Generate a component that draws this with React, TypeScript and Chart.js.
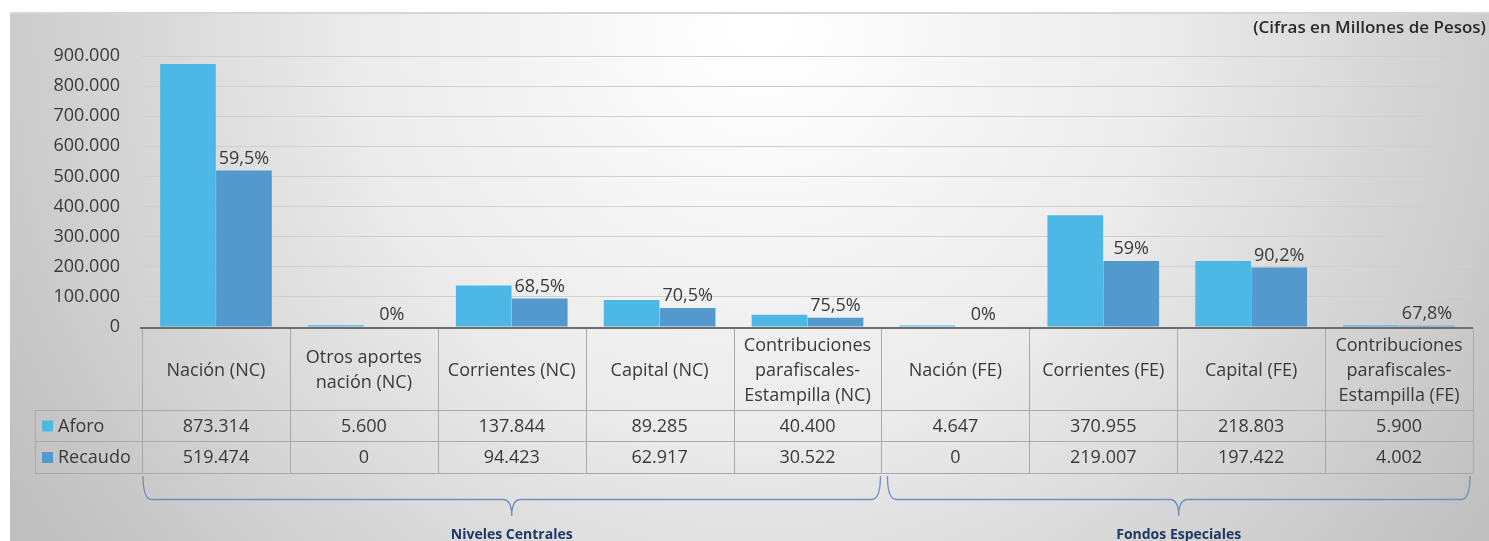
import React, { useEffect, useRef } from "react";
import { Chart, registerables } from "chart.js";

Chart.register(...registerables);

const categories: string[] = [
  "Nación (NC)",
  "Otros aportes\nnación (NC)",
  "Corrientes (NC)",
  "Capital (NC)",
  "Contribuciones\nparafiscales-\nEstampilla (NC)",
  "Nación (FE)",
  "Corrientes (FE)",
  "Capital (FE)",
  "Contribuciones\nparafiscales-\nEstampilla (FE)",
];
const aforo: number[] = [873314, 5600, 137844, 89285, 40400, 4647, 370955, 218803, 5900];
const recaudo: number[] = [519474, 0, 94423, 62917, 30522, 0, 219007, 197422, 4002];
const pctLabels: string[] = ["59,5%", "0%", "68,5%", "70,5%", "75,5%", "0%", "59%", "90,2%", "67,8%"];
const seriesNames: string[] = ["Aforo", "Recaudo"];
const groupLabels: string[] = ["Niveles Centrales", "Fondos Especiales"];
const groupStart: number[] = [0, 5];
const groupEnd: number[] = [4, 8];
const yMax = 900000;
const yStep = 100000;
const noteText = "(Cifras en Millones de Pesos)";

const COLORS = ["#4DB8E5", "#5399CD"];
const FONT = "'Open Sans', sans-serif";
const TEXT = "#3a3a3a";

const fmt = (n: number) => String(Math.round(n)).replace(/\B(?=(\d{3})+(?!\d))/g, ".");

const decorPlugin = {
  id: "decor",
  beforeDraw(chart: any) {
    const { ctx, width, height } = chart;
    ctx.save();
    ctx.fillStyle = "#ffffff";
    ctx.fillRect(0, 0, width, height);
    const g = ctx.createRadialGradient(760, 30, 20, 760, 30, 880);
    g.addColorStop(0, "#ffffff");
    g.addColorStop(0.45, "#ebebeb");
    g.addColorStop(1, "#bfbfbf");
    ctx.fillStyle = g;
    ctx.fillRect(10, 13, width - 10, height - 13);
    ctx.strokeStyle = "#d6d6d6";
    ctx.lineWidth = 2;
    ctx.beginPath();
    ctx.moveTo(10, 13);
    ctx.lineTo(width, 13);
    ctx.stroke();
    ctx.restore();
  },
  afterDatasetsDraw(chart: any) {
    const { ctx, chartArea } = chart;
    const meta = chart.getDatasetMeta(1);
    ctx.save();
    ctx.font = `18px ${FONT}`;
    ctx.fillStyle = TEXT;
    ctx.textAlign = "center";
    ctx.textBaseline = "bottom";
    meta.data.forEach((el: any, i: number) => {
      ctx.fillText(pctLabels[i], el.x, el.y - 3);
    });
    const y0 = chart.scales.y.getPixelForValue(0);
    ctx.strokeStyle = "#6e6e6e";
    ctx.lineWidth = 2;
    ctx.beginPath();
    ctx.moveTo(chartArea.left - 2, y0 + 1);
    ctx.lineTo(chartArea.right, y0 + 1);
    ctx.stroke();
    ctx.restore();
  },
  afterDraw(chart: any) {
    const { ctx, chartArea, width } = chart;
    const xs = chart.scales.x;
    const n = categories.length;
    const cw = (chartArea.right - chartArea.left) / n;
    const bound = (i: number) => chartArea.left + cw * i;
    const top = chartArea.bottom + 2;
    const r1 = 410;
    const r2 = 441;
    const r3 = 473;
    const legL = 35;
    ctx.save();
    ctx.strokeStyle = "#a9a9a9";
    ctx.lineWidth = 1;
    ctx.beginPath();
    for (let i = 0; i <= n; i++) {
      const x = Math.round(bound(i)) + 0.5;
      ctx.moveTo(x, top);
      ctx.lineTo(x, r3);
    }
    ctx.moveTo(legL + 0.5, r1);
    ctx.lineTo(legL + 0.5, r3);
    [r1, r2, r3].forEach((y) => {
      ctx.moveTo(legL, y + 0.5);
      ctx.lineTo(chartArea.right, y + 0.5);
    });
    ctx.stroke();

    ctx.fillStyle = TEXT;
    ctx.font = `18px ${FONT}`;
    ctx.textAlign = "center";
    ctx.textBaseline = "middle";
    const lh = 25;
    const hc = (top + r1) / 2 + 1;
    categories.forEach((c, i) => {
      const lines = c.split("\n");
      const cx = xs.getPixelForValue(i);
      lines.forEach((ln, k) => {
        ctx.fillText(ln, cx, hc + (k - (lines.length - 1) / 2) * lh);
      });
      ctx.fillText(fmt(aforo[i]), cx, (r1 + r2) / 2 + 1);
      ctx.fillText(fmt(recaudo[i]), cx, (r2 + r3) / 2 + 1);
    });
    ctx.textAlign = "left";
    [(r1 + r2) / 2, (r2 + r3) / 2].forEach((cy, k) => {
      ctx.fillStyle = COLORS[k];
      ctx.fillRect(42, cy - 5, 11, 11);
      ctx.fillStyle = TEXT;
      ctx.fillText(seriesNames[k], 58, cy + 1);
    });

    const bTop = 476;
    const bMid = 499.5;
    const bTip = 516;
    const rr = 9;
    groupLabels.forEach((lab, gi) => {
      const x0 = bound(groupStart[gi]) + (gi === 0 ? 1 : 6);
      const x1 = bound(groupEnd[gi] + 1) - (gi === 0 ? 1 : 3);
      const xc = (x0 + x1) / 2;
      ctx.strokeStyle = "#6d90c2";
      ctx.lineWidth = 1.3;
      ctx.beginPath();
      ctx.moveTo(x0, bTop);
      ctx.quadraticCurveTo(x0, bMid, x0 + rr, bMid);
      ctx.lineTo(xc - rr, bMid);
      ctx.quadraticCurveTo(xc, bMid, xc, bTip);
      ctx.quadraticCurveTo(xc, bMid, xc + rr, bMid);
      ctx.lineTo(x1 - rr, bMid);
      ctx.quadraticCurveTo(x1, bMid, x1, bTop);
      ctx.stroke();
      ctx.fillStyle = "#1f3864";
      ctx.font = `bold 14px ${FONT}`;
      ctx.textAlign = "center";
      ctx.fillText(lab, xc, 535);
    });

    ctx.fillStyle = "#2a2a2a";
    ctx.font = `600 17px ${FONT}`;
    ctx.textAlign = "right";
    ctx.fillText(noteText, width - 3, 28);
    ctx.restore();
  },
};

export default function App() {
  const ref = useRef<HTMLCanvasElement | null>(null);
  useEffect(() => {
    if (!ref.current) return;
    const chart = new Chart(ref.current, {
      type: "bar",
      data: {
        labels: categories.map((c) => c.replace(/\n/g, " ")),
        datasets: [
          {
            label: seriesNames[0],
            data: aforo,
            backgroundColor: COLORS[0],
            categoryPercentage: 0.757,
            barPercentage: 0.995,
          },
          {
            label: seriesNames[1],
            data: recaudo,
            backgroundColor: COLORS[1],
            categoryPercentage: 0.757,
            barPercentage: 0.995,
          },
        ],
      },
      options: {
        responsive: false,
        animation: false,
        devicePixelRatio: 1,
        layout: { padding: { top: 56, bottom: 214, right: 16, left: 0 } },
        plugins: {
          legend: { display: false },
          tooltip: { enabled: false },
          title: { display: false },
        },
        scales: {
          x: { display: false },
          y: {
            min: 0,
            max: yMax,
            border: { display: false },
            grid: {
              color: (c: any) => (c.tick && c.tick.value === 0 ? "rgba(0,0,0,0)" : "#cfcfcf"),
              lineWidth: 1,
              drawTicks: false,
            },
            ticks: {
              stepSize: yStep,
              padding: 22,
              color: TEXT,
              font: { family: "'Open Sans', sans-serif", size: 18 },
              callback: (v: any) => fmt(Number(v)),
            },
            afterFit: (s: any) => {
              s.width = 142;
            },
          },
        },
      },
      plugins: [decorPlugin],
    });
    return () => chart.destroy();
  }, []);
  return (
    <div style={{ position: "absolute", left: 0, top: 0, width: 1489, height: 541 }}>
      <canvas ref={ref} width={1489} height={541} style={{ display: "block" }} />
    </div>
  );
}
